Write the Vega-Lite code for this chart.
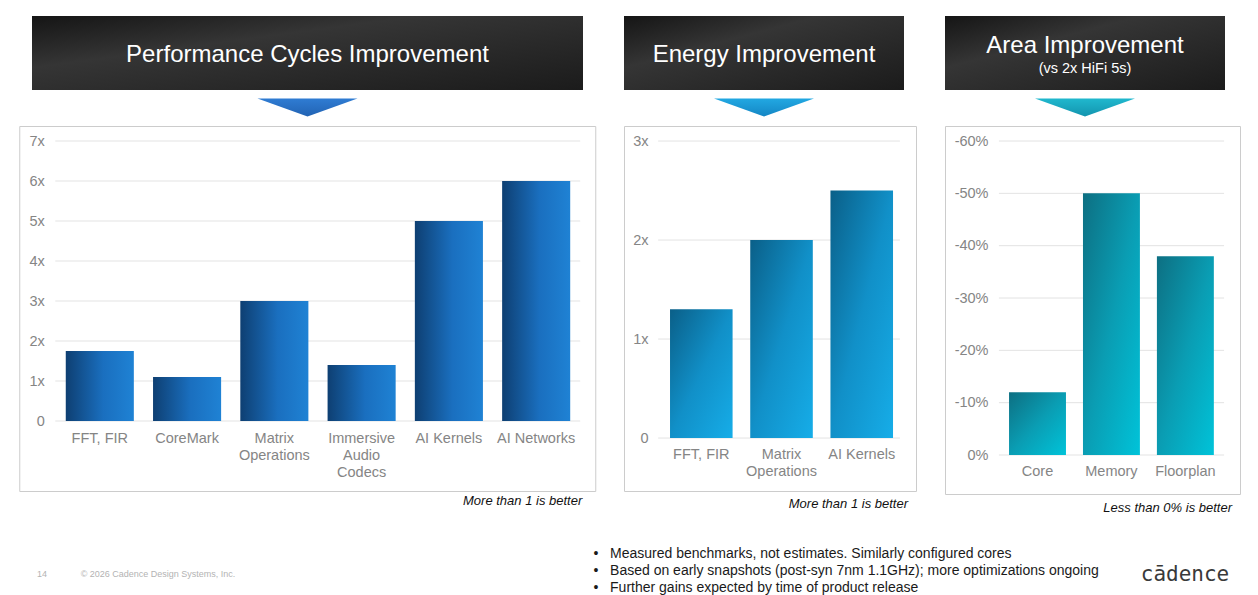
{
  "$schema": "https://vega.github.io/schema/vega-lite/v6.json",
  "padding": {"left": 18, "top": 16, "right": 0, "bottom": 0},
  "background": "white",
  "config": {"view": {"stroke": null}, "font": "Liberation Sans"},
  "spacing": 29,
  "vconcat": [
    {
      "spacing": 27,
      "hconcat": [
        {
          "spacing": 0,
          "center": true,
          "vconcat": [
            {
              "width": 551, "height": 74,
              "view": {"stroke": null, "fill": {"gradient": "linear", "x1": 0, "y1": 0, "x2": 1, "y2": 1, "stops": [{"offset": 0, "color": "#151515"}, {"offset": 0.35, "color": "#353535"}, {"offset": 1, "color": "#1b1b1b"}]}},
              "data": {"values": [{"heading": "Performance Cycles Improvement"}]},
              "mark": {"type": "text", "color": "#ffffff", "fontSize": 24, "align": "center", "baseline": "middle", "dy": 2},
              "encoding": {"text": {"field": "heading"}}
            },
            {
              "width": 551, "height": 35,
              "data": {"values": [{"heading": "Performance Cycles Improvement"}]},
              "mark": {"type": "point", "shape": "M-1,-0.18L1,-0.18L0,0.18Z", "size": 10000, "filled": true, "opacity": 1, "strokeWidth": 0, "fill": {"gradient": "linear", "x1": 0, "y1": 0, "x2": 0, "y2": 1, "stops": [{"offset": 0, "color": "#2f7cd3"}, {"offset": 1, "color": "#2263b3"}]}},
              "encoding": {}
            },
            {
              "width": 576, "height": 365,
              "view": {"fill": "#ffffff", "stroke": "#cccccc", "strokeWidth": 1},
              "title": {"text": "More than 1 is better", "orient": "bottom", "anchor": "end", "frame": "group", "fontSize": 13, "fontStyle": "italic", "fontWeight": "normal", "color": "#111111", "offset": 4, "dx": -13, "baseline": "top"},
              "layer": [
                {
                  "data": {"values": [{"tick": 0}, {"tick": 1}, {"tick": 2}, {"tick": 3}, {"tick": 4}, {"tick": 5}, {"tick": 6}, {"tick": 7}]},
                  "mark": {"type": "rule", "color": "#e3e3e3", "strokeWidth": 1},
                  "encoding": {
                    "y": {"field": "tick", "type": "quantitative"},
                    "x": {"datum": "FFT, FIR", "bandPosition": -0.154},
                    "x2": {"datum": "AI Networks", "bandPosition": 1.147}
                  }
                },
                {
                  "data": {"values": [
                    {"benchmark": "FFT, FIR", "improvement": 1.75},
                    {"benchmark": "CoreMark", "improvement": 1.1},
                    {"benchmark": "Matrix Operations", "improvement": 3.0},
                    {"benchmark": "Immersive Audio Codecs", "improvement": 1.4},
                    {"benchmark": "AI Kernels", "improvement": 5.0},
                    {"benchmark": "AI Networks", "improvement": 6.0}
                  ]},
                  "mark": {"type": "bar", "fill": {"gradient": "linear", "x1": 0, "y1": 0, "x2": 1, "y2": 0, "stops": [{"offset": 0, "color": "#0e3f72"}, {"offset": 0.55, "color": "#1a6fbf"}, {"offset": 1, "color": "#1f82d4"}]}},
                  "encoding": {
                    "x": {"field": "benchmark", "type": "nominal",
                      "scale": {"domain": ["FFT, FIR", "CoreMark", "Matrix Operations", "Immersive Audio Codecs", "AI Kernels", "AI Networks"], "paddingInner": 0.22, "paddingOuter": 0.41, "align": 0.65},
                      "axis": {"title": null, "labelAngle": 0, "labelAlign": "center", "labelPadding": -60, "labelBaseline": "top", "labelExpr": "length(datum.label) > 12 ? split(datum.label, ' ') : datum.label", "labelLineHeight": 17, "labelFontSize": 14.5, "labelColor": "#858585", "ticks": false, "domain": false, "grid": false, "labelOverlap": false}},
                    "y": {"field": "improvement", "type": "quantitative",
                      "scale": {"domain": [-1.75, 7.375], "nice": false, "zero": false},
                      "axis": {"title": null, "values": [0, 1, 2, 3, 4, 5, 6, 7], "labelExpr": "datum.value == 0 ? '0' : datum.value + 'x'", "labelPadding": -25, "labelAlign": "right", "labelBaseline": "middle", "labelFontSize": 14.5, "labelColor": "#858585", "ticks": false, "domain": false, "grid": false}},
                    "y2": {"datum": 0}
                  }
                }
              ]
            }
          ]
        },
        {
          "spacing": 0,
          "center": false,
          "vconcat": [
            {
              "width": 280, "height": 74,
              "view": {"stroke": null, "fill": {"gradient": "linear", "x1": 0, "y1": 0, "x2": 1, "y2": 1, "stops": [{"offset": 0, "color": "#151515"}, {"offset": 0.35, "color": "#353535"}, {"offset": 1, "color": "#1b1b1b"}]}},
              "data": {"values": [{"heading": "Energy Improvement"}]},
              "mark": {"type": "text", "color": "#ffffff", "fontSize": 24, "align": "center", "baseline": "middle", "dy": 2},
              "encoding": {"text": {"field": "heading"}}
            },
            {
              "width": 280, "height": 35,
              "data": {"values": [{"heading": "Energy Improvement"}]},
              "mark": {"type": "point", "shape": "M-1,-0.18L1,-0.18L0,0.18Z", "size": 10000, "filled": true, "opacity": 1, "strokeWidth": 0, "fill": {"gradient": "linear", "x1": 0, "y1": 0, "x2": 0, "y2": 1, "stops": [{"offset": 0, "color": "#22a8e2"}, {"offset": 1, "color": "#1486c4"}]}},
              "encoding": {}
            },
            {
              "width": 292, "height": 365,
              "view": {"fill": "#ffffff", "stroke": "#cccccc", "strokeWidth": 1},
              "title": {"text": "More than 1 is better", "orient": "bottom", "anchor": "end", "frame": "group", "fontSize": 13, "fontStyle": "italic", "fontWeight": "normal", "color": "#111111", "offset": 7, "dx": -8, "baseline": "top"},
              "layer": [
                {
                  "data": {"values": [{"tick": 0}, {"tick": 1}, {"tick": 2}, {"tick": 3}]},
                  "mark": {"type": "rule", "color": "#e3e3e3", "strokeWidth": 1},
                  "encoding": {
                    "y": {"field": "tick", "type": "quantitative"},
                    "x": {"datum": "FFT, FIR", "bandPosition": -0.19},
                    "x2": {"datum": "AI Kernels", "bandPosition": 1.11}
                  }
                },
                {
                  "data": {"values": [
                    {"benchmark": "FFT, FIR", "improvement": 1.3},
                    {"benchmark": "Matrix Operations", "improvement": 2.0},
                    {"benchmark": "AI Kernels", "improvement": 2.5}
                  ]},
                  "mark": {"type": "bar", "fill": {"gradient": "linear", "x1": 0, "y1": 0, "x2": 1, "y2": 1, "stops": [{"offset": 0, "color": "#0a5f88"}, {"offset": 0.5, "color": "#1190c8"}, {"offset": 1, "color": "#16ade8"}]}},
                  "encoding": {
                    "x": {"field": "benchmark", "type": "nominal",
                      "scale": {"domain": ["FFT, FIR", "Matrix Operations", "AI Kernels"], "paddingInner": 0.22, "paddingOuter": 0.43, "align": 0.667},
                      "axis": {"title": null, "labelAngle": 0, "labelAlign": "center", "labelPadding": -44, "labelBaseline": "top", "labelExpr": "length(datum.label) > 12 ? split(datum.label, ' ') : datum.label", "labelLineHeight": 17, "labelFontSize": 14.5, "labelColor": "#858585", "ticks": false, "domain": false, "grid": false, "labelOverlap": false}},
                    "y": {"field": "improvement", "type": "quantitative",
                      "scale": {"domain": [-0.535, 3.152], "nice": false, "zero": false},
                      "axis": {"title": null, "values": [0, 1, 2, 3], "labelExpr": "datum.value == 0 ? '0' : datum.value + 'x'", "labelPadding": -24, "labelAlign": "right", "labelBaseline": "middle", "labelFontSize": 14.5, "labelColor": "#858585", "ticks": false, "domain": false, "grid": false}},
                    "y2": {"datum": 0}
                  }
                }
              ]
            }
          ]
        },
        {
          "spacing": 0,
          "center": false,
          "vconcat": [
            {
              "width": 280, "height": 74,
              "view": {"stroke": null, "fill": {"gradient": "linear", "x1": 0, "y1": 0, "x2": 1, "y2": 1, "stops": [{"offset": 0, "color": "#151515"}, {"offset": 0.35, "color": "#353535"}, {"offset": 1, "color": "#1b1b1b"}]}},
              "data": {"values": [{"heading": "Area Improvement", "subheading": "(vs 2x HiFi 5s)"}]},
              "layer": [
                {"mark": {"type": "text", "color": "#ffffff", "fontSize": 24, "align": "center", "baseline": "middle", "dy": -7}, "encoding": {"text": {"field": "heading"}}},
                {"mark": {"type": "text", "color": "#ffffff", "fontSize": 14.5, "align": "center", "baseline": "middle", "dy": 16}, "encoding": {"text": {"field": "subheading"}}}
              ]
            },
            {
              "width": 280, "height": 35,
              "data": {"values": [{"heading": "Area Improvement"}]},
              "mark": {"type": "point", "shape": "M-1,-0.18L1,-0.18L0,0.18Z", "size": 10000, "filled": true, "opacity": 1, "strokeWidth": 0, "fill": {"gradient": "linear", "x1": 0, "y1": 0, "x2": 0, "y2": 1, "stops": [{"offset": 0, "color": "#20b8ce"}, {"offset": 1, "color": "#1394ae"}]}},
              "encoding": {}
            },
            {
              "width": 295, "height": 368,
              "view": {"fill": "#ffffff", "stroke": "#cccccc", "strokeWidth": 1},
              "title": {"text": "Less than 0% is better", "orient": "bottom", "anchor": "end", "frame": "group", "fontSize": 13, "fontStyle": "italic", "fontWeight": "normal", "color": "#111111", "offset": 8, "dx": -8, "baseline": "top"},
              "layer": [
                {
                  "data": {"values": [{"tick": 0}, {"tick": -10}, {"tick": -20}, {"tick": -30}, {"tick": -40}, {"tick": -50}, {"tick": -60}]},
                  "mark": {"type": "rule", "color": "#e3e3e3", "strokeWidth": 1},
                  "encoding": {
                    "y": {"field": "tick", "type": "quantitative"},
                    "x": {"datum": "Core", "bandPosition": -0.178},
                    "x2": {"datum": "Floorplan", "bandPosition": 1.18}
                  }
                },
                {
                  "data": {"values": [
                    {"component": "Core", "change": -12},
                    {"component": "Memory", "change": -50},
                    {"component": "Floorplan", "change": -38}
                  ]},
                  "mark": {"type": "bar", "fill": {"gradient": "linear", "x1": 0, "y1": 0, "x2": 1, "y2": 1, "stops": [{"offset": 0, "color": "#0d6f82"}, {"offset": 0.5, "color": "#0a9db3"}, {"offset": 1, "color": "#00c3d9"}]}},
                  "encoding": {
                    "x": {"field": "component", "type": "nominal",
                      "scale": {"domain": ["Core", "Memory", "Floorplan"], "paddingInner": 0.23, "paddingOuter": 0.61, "align": 0.71},
                      "axis": {"title": null, "labelAngle": 0, "labelAlign": "center", "labelPadding": -30, "labelBaseline": "top", "labelFontSize": 14.5, "labelColor": "#858585", "ticks": false, "domain": false, "grid": false, "labelOverlap": false}},
                    "y": {"field": "change", "type": "quantitative",
                      "scale": {"domain": [-62.87, 7.45], "reverse": true, "nice": false, "zero": false},
                      "axis": {"title": null, "values": [0, -10, -20, -30, -40, -50, -60], "labelExpr": "datum.value + '%'", "labelPadding": -43, "labelAlign": "right", "labelBaseline": "middle", "labelFontSize": 14.5, "labelColor": "#858585", "ticks": false, "domain": false, "grid": false}},
                    "y2": {"datum": 0}
                  }
                }
              ]
            }
          ]
        }
      ]
    },
    {
      "spacing": 0,
      "hconcat": [
        {
          "width": 46, "height": 48,
          "data": {"values": [{"page": "14"}]},
          "mark": {"type": "text", "fontSize": 9, "color": "#b3b3b3", "align": "center", "baseline": "middle", "dy": 5},
          "encoding": {"text": {"field": "page"}}
        },
        {
          "width": 186, "height": 48,
          "data": {"values": [{"copyright": "© 2026 Cadence Design Systems, Inc."}]},
          "mark": {"type": "text", "fontSize": 9, "color": "#b3b3b3", "align": "center", "baseline": "middle", "dy": 5},
          "encoding": {"text": {"field": "copyright"}}
        },
        {
          "width": 685, "height": 48,
          "data": {"values": [{"notes": "•\u00a0\u00a0\u00a0Measured benchmarks, not estimates. Similarly configured cores\n•\u00a0\u00a0\u00a0Based on early snapshots (post-syn 7nm 1.1GHz); more optimizations ongoing\n•\u00a0\u00a0\u00a0Further gains expected by time of product release"}]},
          "mark": {"type": "text", "fontSize": 14, "color": "#1a1a1a", "align": "left", "baseline": "middle", "lineBreak": "\n", "lineHeight": 17, "dy": -15},
          "encoding": {"text": {"field": "notes"}}
        },
        {
          "width": 150, "height": 48,
          "data": {"values": [{"logo": "cādence"}]},
          "mark": {"type": "text", "font": "DejaVu Sans Mono", "fontSize": 21, "color": "#3a3a3a", "align": "center", "baseline": "middle", "dx": 11, "dy": 6},
          "encoding": {"text": {"field": "logo"}}
        }
      ]
    }
  ]
}
